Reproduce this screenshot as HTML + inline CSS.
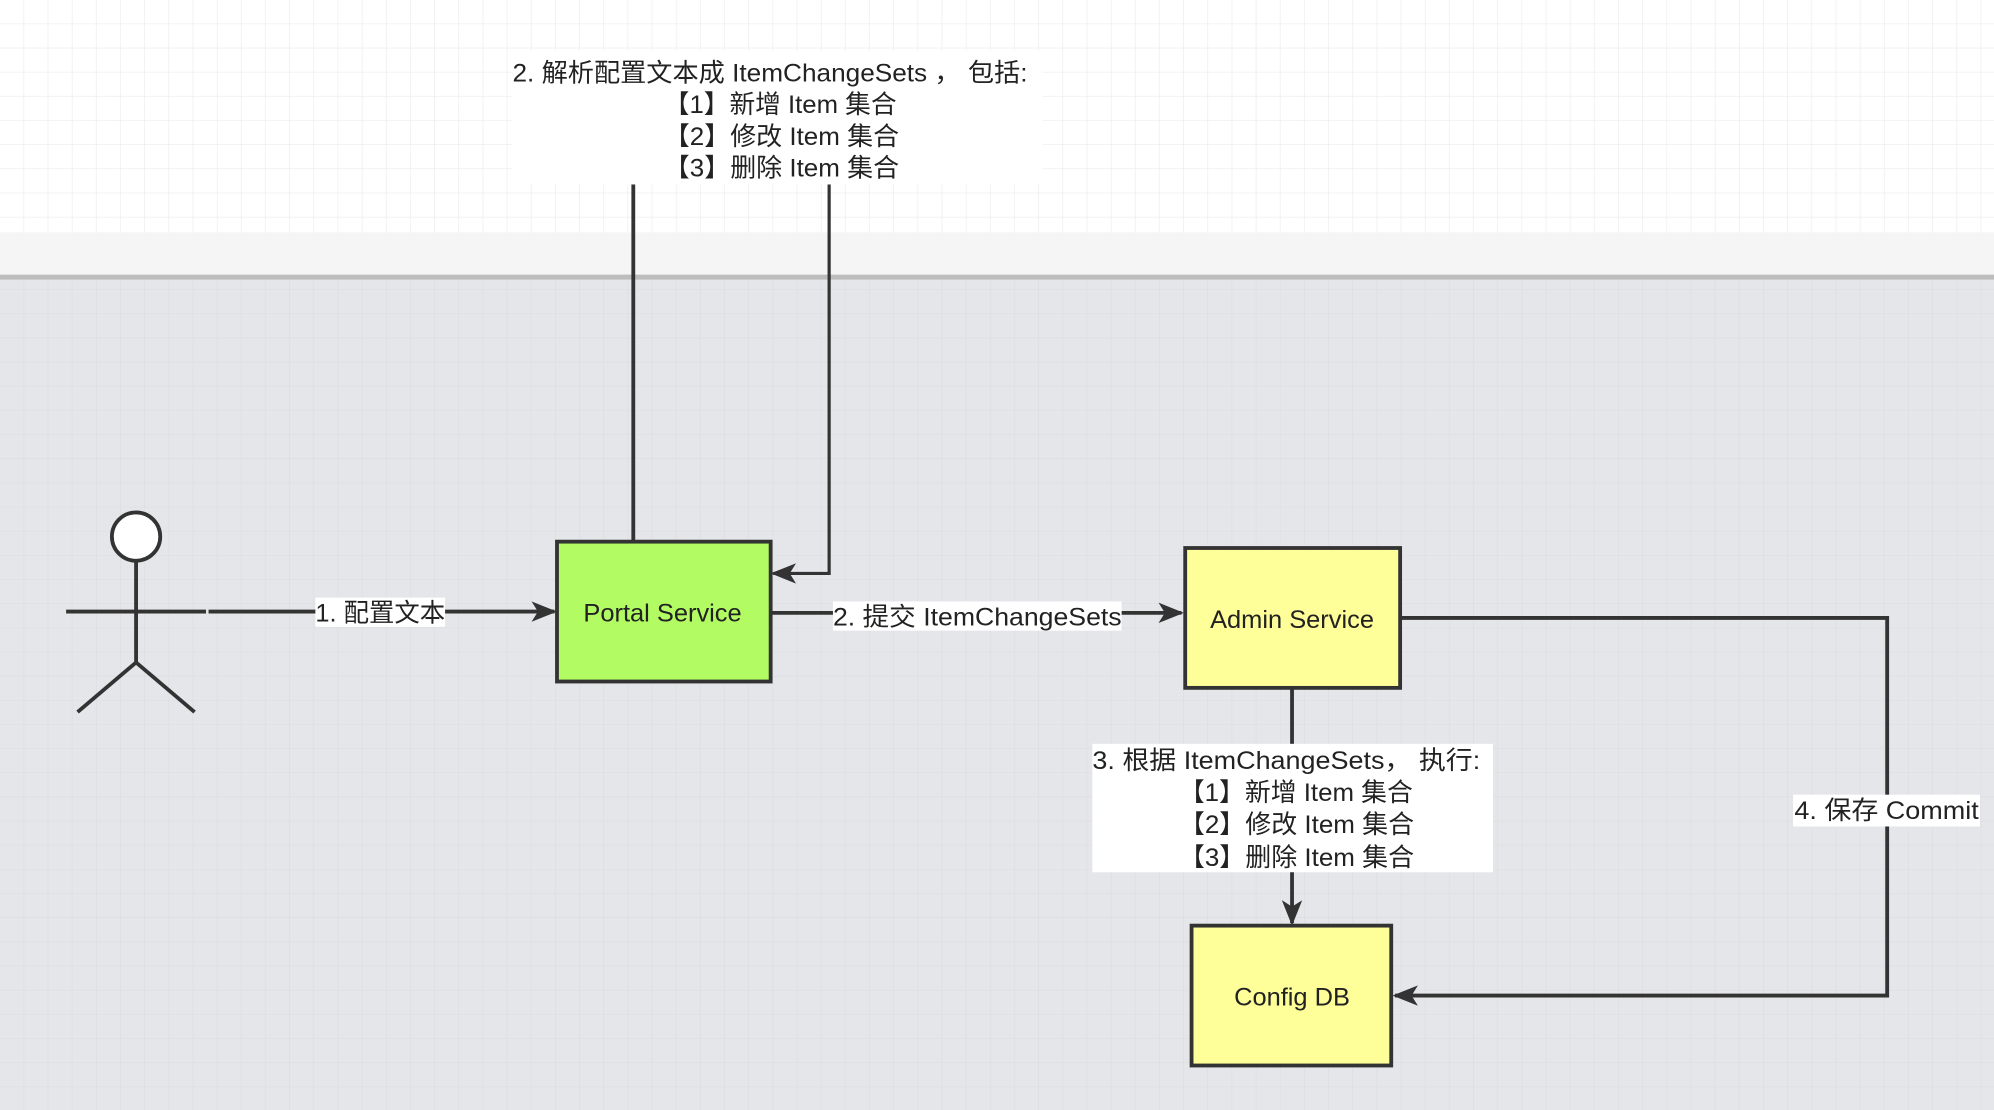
<!DOCTYPE html>
<html><head><meta charset="utf-8"><style>
html,body{margin:0;padding:0;width:1994px;height:1110px;overflow:hidden;background:#e6e7ea}
svg{display:block}
text{font-family:"Liberation Sans","Noto Sans CJK SC",sans-serif;fill:#222}
</style></head><body>
<svg width="1994" height="1110" viewBox="0 0 1568 873" preserveAspectRatio="none" xmlns="http://www.w3.org/2000/svg">
<defs>
<pattern id="gw" width="19" height="19" patternUnits="userSpaceOnUse"><path d="M19 0V19H0" fill="none" stroke="#ebebeb" stroke-width="1"/></pattern>
<pattern id="gg" width="19" height="19" patternUnits="userSpaceOnUse"><path d="M19 0V19H0" fill="none" stroke="#dcdde0" stroke-width="1"/></pattern>
<marker id="ar" markerWidth="20" markerHeight="16" refX="18" refY="8" orient="auto" markerUnits="userSpaceOnUse" viewBox="0 0 20 16"><path d="M0 0L20 8L0 16L5 8Z" fill="#333"/></marker>
</defs>
<rect x="0" y="0" width="1568" height="183" fill="#fff"/>
<rect x="0" y="0" width="1568" height="183" fill="url(#gw)"/>
<rect x="0" y="183" width="1568" height="35" fill="#f5f5f5"/>
<rect x="0" y="216" width="1568" height="4" fill="#bdbdbd"/>
<rect x="0" y="220" width="1568" height="653" fill="#e5e6e9"/>
<rect x="0" y="220" width="1568" height="653" fill="url(#gg)"/>
<g stroke="#333" stroke-width="3" fill="none">
<path d="M498 145V426"/>
<path d="M652 145V451H608" marker-end="url(#ar)" stroke-width="2.5"/>
<circle cx="107" cy="422" r="19" fill="#fff"/>
<path d="M107 441V521M52 481H162M107 521L61 560M107 521L153 560"/>
<path d="M164 481H436" marker-end="url(#ar)"/>
<path d="M606 482H929" marker-end="url(#ar)"/>
<path d="M1016 541V726" marker-end="url(#ar)"/>
<path d="M1101 486H1484V783H1097" marker-end="url(#ar)"/>
</g>
<rect x="438" y="426" width="168" height="110" fill="#b2fb63" stroke="#333" stroke-width="3"/>
<rect x="932" y="431" width="169" height="110" fill="#ffff99" stroke="#333" stroke-width="3"/>
<rect x="937" y="728" width="157" height="110" fill="#ffff99" stroke="#333" stroke-width="3"/>
<text x="521" y="489" font-size="20" text-anchor="middle">Portal Service</text>
<text x="1016" y="494" font-size="20" text-anchor="middle">Admin Service</text>
<text x="1016" y="791" font-size="20" text-anchor="middle">Config DB</text>
<rect x="403" y="40" width="417" height="105" fill="#fff"/>
<g font-size="20">
<text x="403" y="64" textLength="405" lengthAdjust="spacingAndGlyphs">2. 解析配置文本成 ItemChangeSets ， 包括:</text>
<text x="522" y="89" textLength="183" lengthAdjust="spacingAndGlyphs">【1】新增 Item 集合</text>
<text x="522" y="114" textLength="185" lengthAdjust="spacingAndGlyphs">【2】修改 Item 集合</text>
<text x="522" y="139" textLength="185" lengthAdjust="spacingAndGlyphs">【3】删除 Item 集合</text>
</g>
<rect x="248" y="470" width="102" height="23" fill="#fff"/>
<text x="248" y="489" font-size="20" textLength="102" lengthAdjust="spacingAndGlyphs">1. 配置文本</text>
<rect x="655" y="473" width="227" height="23" fill="#fff"/>
<text x="655" y="492" font-size="20" textLength="227" lengthAdjust="spacingAndGlyphs">2. 提交 ItemChangeSets</text>
<rect x="859" y="585" width="315" height="101" fill="#fff"/>
<g font-size="20">
<text x="859" y="605" textLength="305" lengthAdjust="spacingAndGlyphs">3. 根据 ItemChangeSets， 执行:</text>
<text x="927" y="630" textLength="184" lengthAdjust="spacingAndGlyphs">【1】新增 Item 集合</text>
<text x="927" y="655" textLength="185" lengthAdjust="spacingAndGlyphs">【2】修改 Item 集合</text>
<text x="927" y="681" textLength="185" lengthAdjust="spacingAndGlyphs">【3】删除 Item 集合</text>
</g>
<rect x="1410" y="625" width="147" height="25" fill="#fff"/>
<text x="1411" y="644" font-size="20" textLength="145" lengthAdjust="spacingAndGlyphs">4. 保存 Commit</text>
</svg>
</body></html>
